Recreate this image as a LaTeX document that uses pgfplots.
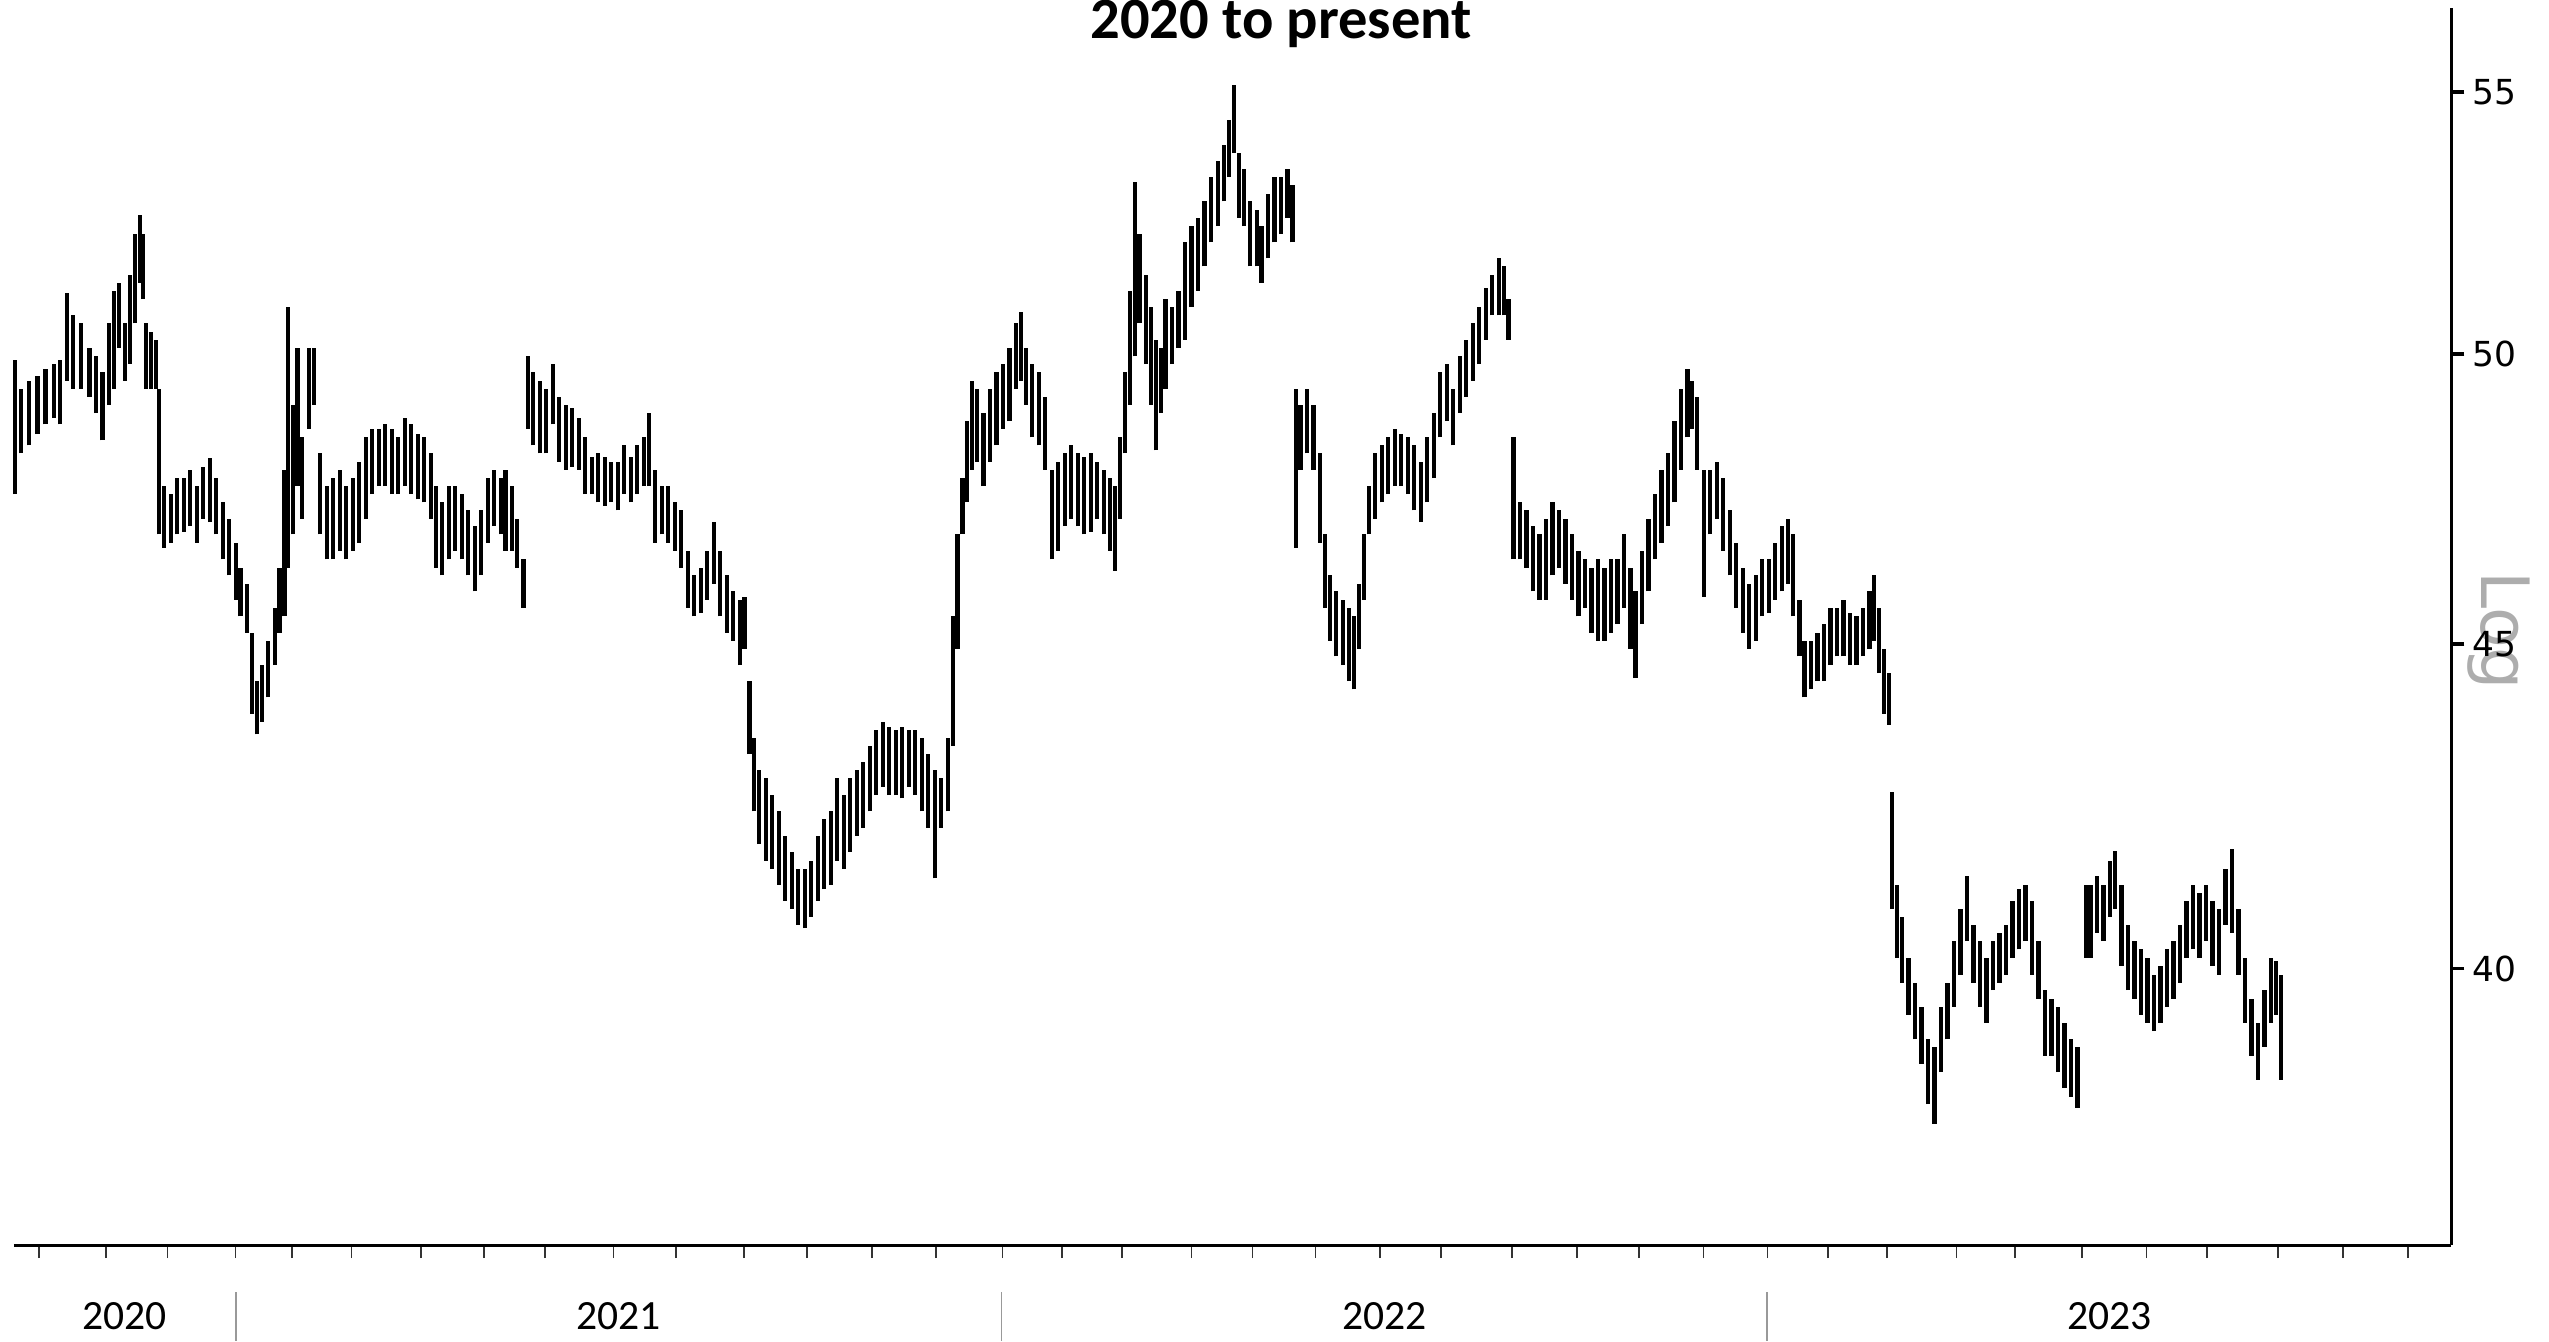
\documentclass[border=0pt]{standalone}
\usepackage{fontspec}
\setmainfont{Carlito}
\newfontfamily\dejavu{DejaVu Sans}
\usepackage{pgfplots}
\usepackage{pgfplotstable}
\pgfplotsset{compat=1.18}

% daily range bars: x = position on the trading-day axis, lo/hi = low/high
\pgfplotstableread{
x lo hi
9 47.52 49.90
13 48.23 49.38
18 48.37 49.52
23 48.57 49.61
28 48.74 49.73
33 48.86 49.82
37 48.74 49.90
41 49.52 51.13
45 49.38 50.71
50 49.38 50.56
55 49.23 50.11
59 48.94 49.96
63 48.46 49.67
67 49.09 50.56
70 49.38 51.16
73 50.11 51.31
77 49.52 50.56
80 49.82 51.46
83 50.56 52.23
86 51.31 52.60
88 51.01 52.23
90 49.38 50.56
93 49.38 50.41
96 49.38 50.26
98 46.83 49.38
101 46.61 47.66
105 46.69 47.52
109 46.83 47.80
113 46.88 47.80
117 46.97 47.94
121 46.69 47.66
125 47.10 48.00
129 47.04 48.14
133 46.83 47.80
137 46.41 47.38
141 46.14 47.10
145 45.73 46.69
148 45.46 46.27
152 45.19 46.00
155 43.88 45.19
158 43.55 44.40
161 43.75 44.66
165 44.14 45.06
169 44.66 45.60
172 45.19 46.27
175 45.46 47.94
177 46.27 50.86
180 46.83 49.09
183 47.66 50.11
186 47.10 48.51
190 48.66 50.11
193 49.09 50.11
197 46.83 48.23
201 46.41 47.66
205 46.41 47.80
209 46.55 47.94
213 46.41 47.66
217 46.55 47.80
221 46.69 48.08
225 47.10 48.51
229 47.52 48.66
233 47.66 48.66
237 47.66 48.74
241 47.52 48.66
245 47.52 48.51
249 47.66 48.86
253 47.52 48.74
257 47.43 48.57
261 47.38 48.51
265 47.10 48.23
268 46.27 47.66
272 46.14 47.38
276 46.41 47.66
280 46.55 47.66
284 46.41 47.52
288 46.14 47.24
292 45.87 46.97
296 46.14 47.24
300 46.69 47.80
304 46.97 47.94
308 46.83 47.80
311 46.55 47.94
315 46.55 47.66
318 46.27 47.10
322 45.60 46.41
325 48.66 49.96
328 48.37 49.67
332 48.23 49.52
336 48.23 49.38
340 48.74 49.82
344 48.08 49.23
348 47.94 49.09
352 48.00 49.03
356 47.94 48.86
360 47.52 48.51
364 47.52 48.17
368 47.38 48.23
372 47.32 48.17
376 47.38 48.08
380 47.24 48.08
384 47.52 48.37
388 47.38 48.17
392 47.52 48.37
396 47.66 48.51
399 47.66 48.94
403 46.69 47.94
407 46.83 47.66
411 46.69 47.66
415 46.55 47.38
419 46.27 47.24
423 45.60 46.55
427 45.46 46.14
431 45.51 46.27
435 45.73 46.55
439 46.00 47.04
443 45.46 46.55
447 45.19 46.14
451 45.06 45.87
455 44.66 45.73
458 44.93 45.78
461 43.24 44.40
464 42.35 43.50
467 41.85 42.99
471 41.60 42.86
475 41.48 42.60
479 41.24 42.35
483 41.00 41.98
487 40.88 41.73
491 40.64 41.48
495 40.59 41.48
499 40.76 41.60
503 41.00 41.98
507 41.17 42.23
511 41.24 42.35
515 41.60 42.86
519 41.48 42.60
523 41.73 42.86
527 41.98 42.99
531 42.10 43.11
535 42.35 43.37
539 42.60 43.62
543 42.73 43.75
547 42.60 43.67
551 42.60 43.62
555 42.55 43.67
559 42.73 43.62
563 42.60 43.62
567 42.35 43.50
571 42.10 43.24
575 41.33 42.99
579 42.10 42.86
583 42.35 43.50
586 43.37 45.46
589 44.93 46.83
592 46.83 47.80
595 47.38 48.80
598 47.94 49.52
601 48.08 49.38
605 47.66 48.94
609 48.08 49.38
613 48.37 49.67
617 48.66 49.82
621 48.80 50.11
625 49.38 50.56
628 49.52 50.77
631 49.09 50.11
635 48.51 49.82
639 48.37 49.67
643 47.94 49.23
647 46.41 47.94
651 46.55 48.08
655 46.97 48.23
659 47.10 48.37
663 46.97 48.23
667 46.83 48.17
671 46.88 48.23
675 47.10 48.08
679 46.83 47.94
683 46.55 47.80
686 46.22 47.66
689 47.10 48.51
692 48.23 49.67
695 49.09 51.16
698 49.96 53.22
701 50.56 52.23
705 49.82 51.46
708 49.09 50.86
711 48.28 50.26
714 48.94 50.11
717 49.38 51.01
721 49.82 50.86
725 50.11 51.16
729 50.26 52.07
733 50.86 52.38
737 51.16 52.54
741 51.62 52.85
745 52.07 53.32
749 52.38 53.63
753 52.85 53.95
756 53.32 54.43
759 53.79 55.14
762 52.54 53.79
765 52.38 53.48
769 51.62 52.85
773 51.62 52.69
776 51.31 52.38
780 51.77 53.00
784 52.07 53.32
788 52.23 53.32
792 52.54 53.48
795 52.07 53.16
797 46.61 49.38
800 47.94 49.09
804 48.23 49.38
808 47.94 49.09
812 46.69 48.23
815 45.60 46.83
818 45.06 46.14
822 44.80 45.87
826 44.66 45.73
830 44.40 45.60
833 44.27 45.46
836 44.93 46.00
839 45.73 46.83
842 46.83 47.66
846 47.10 48.23
850 47.38 48.37
854 47.52 48.51
858 47.66 48.66
862 47.66 48.57
866 47.52 48.51
870 47.24 48.37
874 47.04 48.08
878 47.38 48.51
882 47.80 48.94
886 48.51 49.67
890 48.80 49.82
894 48.37 49.38
898 48.94 49.96
902 49.23 50.26
906 49.52 50.56
910 49.82 50.86
914 50.26 51.22
918 50.71 51.46
922 50.71 51.77
925 50.71 51.62
928 50.26 51.01
931 46.41 48.51
935 46.41 47.38
939 46.27 47.24
943 45.87 46.97
947 45.73 46.83
951 45.73 47.10
955 46.14 47.38
959 46.27 47.24
963 46.00 47.10
967 45.73 46.83
971 45.46 46.55
975 45.60 46.41
979 45.19 46.27
983 45.06 46.41
987 45.06 46.27
991 45.19 46.41
995 45.33 46.41
999 45.60 46.83
1003 44.93 46.27
1006 44.45 45.87
1010 45.33 46.55
1014 45.87 47.10
1018 46.41 47.52
1022 46.69 47.94
1026 46.97 48.23
1030 47.38 48.80
1034 47.94 49.38
1038 48.51 49.73
1041 48.66 49.52
1044 47.94 49.23
1048 45.78 47.94
1052 46.83 47.94
1056 47.10 48.08
1060 46.55 47.80
1064 46.14 47.24
1068 45.60 46.69
1072 45.19 46.27
1076 44.93 46.00
1080 45.06 46.14
1084 45.46 46.41
1088 45.51 46.41
1092 45.73 46.69
1096 45.87 46.97
1100 46.00 47.10
1103 45.46 46.83
1107 44.80 45.73
1110 44.14 45.06
1114 44.27 45.06
1118 44.40 45.19
1122 44.40 45.33
1126 44.66 45.60
1130 44.80 45.60
1134 44.80 45.73
1138 44.66 45.51
1142 44.66 45.46
1146 44.80 45.60
1150 44.93 45.87
1153 45.06 46.14
1156 44.53 45.60
1159 43.88 44.93
1162 43.70 44.53
1164 40.88 42.65
1167 40.16 41.24
1170 39.80 40.76
1174 39.34 40.16
1178 38.99 39.80
1182 38.65 39.45
1186 38.08 38.99
1190 37.81 38.88
1194 38.53 39.45
1198 38.99 39.80
1202 39.45 40.40
1206 39.92 40.88
1210 40.40 41.36
1214 39.80 40.64
1218 39.45 40.40
1222 39.22 40.16
1226 39.69 40.40
1230 39.80 40.52
1234 39.92 40.64
1238 40.16 41.00
1242 40.28 41.17
1246 40.40 41.24
1250 39.92 41.00
1254 39.57 40.40
1258 38.76 39.69
1262 38.76 39.57
1266 38.53 39.45
1270 38.31 39.22
1274 38.19 38.99
1278 38.03 38.88
1283 40.16 41.24
1286 40.16 41.24
1290 40.52 41.36
1294 40.40 41.24
1298 40.76 41.60
1301 40.88 41.75
1305 40.04 41.24
1309 39.69 40.64
1313 39.57 40.40
1317 39.34 40.28
1321 39.22 40.16
1325 39.11 39.92
1329 39.22 40.04
1333 39.45 40.28
1337 39.57 40.40
1341 39.80 40.64
1345 40.16 41.00
1349 40.28 41.24
1353 40.16 41.12
1357 40.40 41.24
1361 40.04 41.00
1365 39.92 40.88
1369 40.64 41.48
1373 40.52 41.78
1377 39.92 40.88
1381 39.22 40.16
1385 38.76 39.57
1389 38.42 39.22
1393 38.88 39.69
1397 39.22 40.16
1400 39.34 40.11
1403 38.42 39.92
}\bars

\begin{document}
\begin{tikzpicture}
  \path[use as bounding box] (-4.3bp,-29.5bp) rectangle (779.7bp,383bp);
  % watermark behind the axis
  \node[rotate=-90, text=black!32, font=\dejavu\fontsize{20.5bp}{24bp}\selectfont]
    at (764.2bp,189bp) {Log};
  \begin{axis}[
      scale only axis,
      width=749.7bp, height=380.5bp,
      xmin=8.6, xmax=1508,
      ymode=log, ymin=36.18, ymax=56.7,
      axis x line*=bottom,
      axis y line*=right,
      axis line style={black, line width=0.9bp},
      tick align=outside,
      major tick length=4bp,
      xtick={24,65.2,103,144.9,179.6,216.3,259,297.7,335.3,377.5,415.8,457.7,
             496.4,536.4,575.8,616.7,653.3,690.2,733,770.5,809.2,848.9,886.3,
             930.1,969.9,1008.3,1048,1087.2,1124.5,1160.7,1203.5,1239.5,1280.6,
             1320.4,1357.6,1401.4,1441.3,1481.3},
      xticklabels={},
      xtick style={black!80, line width=0.5bp},
      ytick={40,45,50,55},
      yticklabels={40,45,50,55},
      ytick style={black, line width=1.1bp},
      yticklabel style={font=\dejavu\fontsize{10.6bp}{12bp}\selectfont, xshift=-1bp},
      clip=false,
    ]
    \addplot[draw=none, mark=none,
      error bars/.cd, y dir=plus, y explicit, error mark=none,
      error bar style={draw=black, line width=1.3bp}]
      table[x=x, y=lo, y error expr=\thisrow{hi}-\thisrow{lo}] {\bars};
  \end{axis}
  % title
  \node[anchor=base, font=\bfseries\fontsize{18bp}{20bp}\selectfont]
    at (389.7bp,371bp) {2020 to present};
  % year labels and separators
  \begin{scope}[font=\fontsize{12.8bp}{14bp}\selectfont]
    \node[anchor=base] at (33.95bp,-26bp) {2020};
    \node[anchor=base] at (185.95bp,-26bp) {2021};
    \node[anchor=base] at (421.45bp,-26bp) {2022};
    \node[anchor=base] at (644.45bp,-26bp) {2023};
  \end{scope}
  \foreach \sx in {68.2,303.7,539.2}
    \draw[black!40, line width=0.5bp] (\sx bp,-14.5bp) -- (\sx bp,-29.5bp);
\end{tikzpicture}
\end{document}
